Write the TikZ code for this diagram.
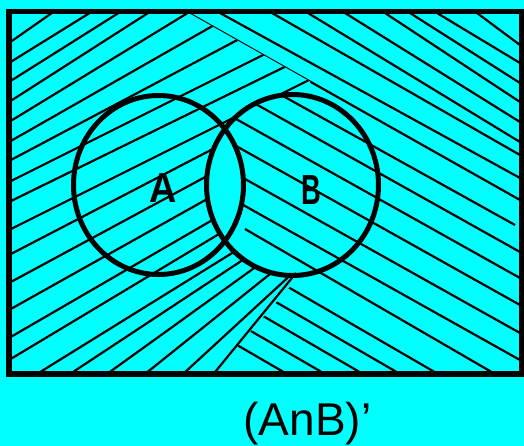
\documentclass[tikz,border=0pt]{standalone}
\usepackage{fontspec}
\setmainfont{Liberation Sans}
\usetikzlibrary{calc}
\definecolor{bgc}{HTML}{00FFFF}
\begin{document}
\begin{tikzpicture}[x=1pt,y=-1pt,
  hatch/.style={line width=2.2pt, black},
  ring/.style={line width=5pt, black},
  frame/.style={line width=5.5pt, black}]
\fill[bgc] (0,0) rectangle (524,446);
\useasboundingbox (0,0) rectangle (524,446);
% right-hand hatching (down-right)
\begin{scope}
\clip (9,11.5) rectangle (522,374);
\foreach \xt/\yr in {220/178, 272/155, 308/142, 345/122, 385/102, 410/83, 437/63, 477/45}
  \draw[hatch] ($(\xt,13)!-0.2!(520,\yr)$) -- ($(\xt,13)!1.2!(520,\yr)$);
\draw[hatch] ($(185,11)!-0.1!(520,200)$) -- ($(185,11)!1.1!(520,200)$);
\draw[hatch] (283,96) -- (515,225);
\foreach \yr in {252,278,305,333,360}
  \draw[hatch] (140,{\yr-0.56*380}) -- (530,{\yr+0.56*10});
\foreach \xb in {495,438,400,363,325,287}
  \draw[hatch] ({\xb+10},{374+5.8}) -- ({\xb-250},{374-0.58*250});
\end{scope}
% left-hand hatching (up-right)
\begin{scope}
\clip (9,11) -- (185,11) -- (310,81.5) -- (310,185) -- (300,260) -- (294,282) -- (213,374) -- (9,374) -- cycle;
\begin{scope}[even odd rule]
\clip (0,0) rectangle (524,446) (292.5,185) ellipse [x radius=86pt, y radius=90.5pt];
\fill[bgc] (0,0) rectangle (524,446);
\foreach \y/\m in {43/0.70, 63/0.62, 82/0.63, 102/0.64, 122/0.61, 142/0.57, 161/0.53, 182/0.50, 202/0.49, 230/0.50, 255/0.52, 283/0.54, 310/0.56, 338/0.58, 360/0.60}
  \draw[hatch] (5,{\y+4*\m}) -- (330,{\y-321*\m});
\foreach \xb/\m in {37/0.62, 70/0.66, 107/0.72, 145/0.80, 183/0.92}
  \draw[hatch] ({\xb-10},{374+10*\m}) -- ({\xb+300},{374-300*\m});
\end{scope}
\end{scope}
\begin{scope}
\clip (9,11.5) rectangle (522,374);
\draw[hatch] (211,377) -- (296,273);
\end{scope}
% lens left clear
\begin{scope}
\clip (158.5,185) ellipse [x radius=85pt, y radius=89.5pt];
\fill[bgc] (292.5,185) ellipse [x radius=86pt, y radius=90.5pt];
\end{scope}
% circles and frame
\draw[ring] (158.5,185) ellipse [x radius=85pt, y radius=89.5pt];
\draw[ring] (292.5,185) ellipse [x radius=86pt, y radius=90.5pt];
\draw[frame] (9,11.5) rectangle (522,374);
% labels
\node[anchor=base, inner sep=0pt] (la) at (163.5,203) {\fontsize{42}{42}\selectfont\bfseries\scalebox{0.9}[1]{A}};
\node[anchor=base, inner sep=0pt] (lb) at (311,205) {\fontsize{42}{42}\selectfont\bfseries\scalebox{0.65}[1]{B}};
\node[anchor=base, inner sep=0pt] (cap) at (307.5,435) {\fontsize{46}{46}\selectfont (AnB)’};
\end{tikzpicture}
\end{document}
